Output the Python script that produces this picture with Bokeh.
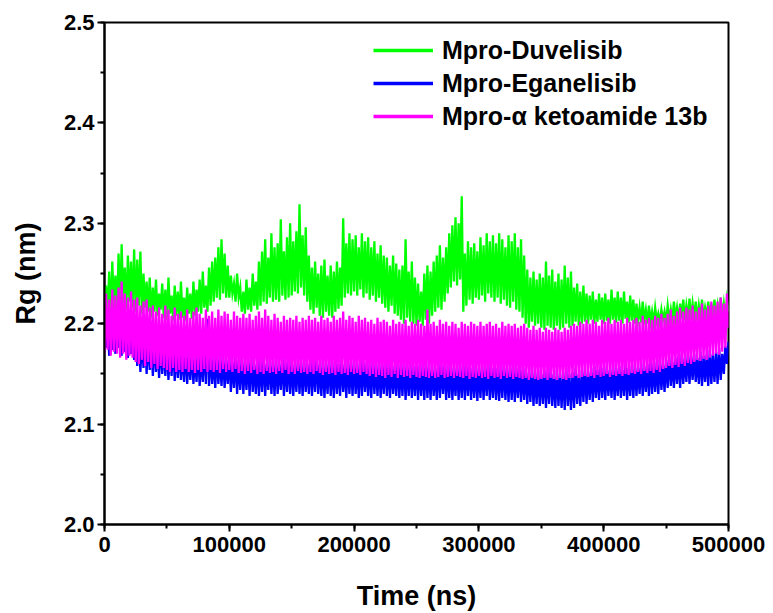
from bokeh.plotting import figure
from bokeh.models import Range1d, SingleIntervalTicker, NumeralTickFormatter, Legend, LegendItem
from bokeh.embed import file_html
from bokeh.resources import INLINE

time_step_ns = 1250

duvelisib = [
    2.204, 2.238, 2.210, 2.252, 2.206, 2.262, 2.214, 2.248, 2.208, 2.270,
    2.216, 2.279, 2.220, 2.256, 2.214, 2.268, 2.222, 2.262, 2.216, 2.274,
    2.212, 2.264, 2.218, 2.272, 2.210, 2.250, 2.216, 2.242, 2.212, 2.246,
    2.206, 2.236, 2.212, 2.244, 2.208, 2.230, 2.214, 2.240, 2.206, 2.234,
    2.204, 2.246, 2.210, 2.228, 2.203, 2.238, 2.208, 2.232, 2.204, 2.242,
    2.206, 2.226, 2.203, 2.236, 2.210, 2.230, 2.205, 2.242, 2.208, 2.234,
    2.212, 2.244, 2.210, 2.252, 2.216, 2.238, 2.212, 2.256, 2.218, 2.262,
    2.222, 2.266, 2.226, 2.276, 2.224, 2.284, 2.230, 2.270, 2.226, 2.258,
    2.226, 2.248, 2.230, 2.240, 2.222, 2.250, 2.226, 2.236, 2.212, 2.232,
    2.210, 2.244, 2.214, 2.236, 2.212, 2.250, 2.218, 2.242, 2.214, 2.262,
    2.218, 2.272, 2.222, 2.284, 2.220, 2.266, 2.226, 2.290, 2.222, 2.276,
    2.224, 2.280, 2.222, 2.304, 2.228, 2.272, 2.224, 2.286, 2.226, 2.300,
    2.228, 2.282, 2.232, 2.292, 2.230, 2.319, 2.236, 2.288, 2.228, 2.296,
    2.222, 2.268, 2.214, 2.256, 2.210, 2.262, 2.216, 2.250, 2.208, 2.258,
    2.206, 2.264, 2.212, 2.248, 2.208, 2.258, 2.206, 2.252, 2.212, 2.262,
    2.215, 2.256, 2.218, 2.305, 2.226, 2.280, 2.230, 2.290, 2.228, 2.284,
    2.232, 2.288, 2.228, 2.276, 2.234, 2.290, 2.226, 2.282, 2.230, 2.286,
    2.224, 2.276, 2.228, 2.282, 2.222, 2.270, 2.226, 2.278, 2.220, 2.268,
    2.216, 2.266, 2.212, 2.258, 2.218, 2.268, 2.210, 2.260, 2.208, 2.254,
    2.204, 2.258, 2.200, 2.284, 2.206, 2.252, 2.202, 2.262, 2.200, 2.246,
    2.198, 2.240, 2.202, 2.232, 2.198, 2.250, 2.204, 2.258, 2.200, 2.252,
    2.208, 2.262, 2.212, 2.268, 2.216, 2.278, 2.214, 2.266, 2.222, 2.276,
    2.230, 2.290, 2.236, 2.298, 2.242, 2.306, 2.238, 2.300, 2.244, 2.327,
    2.212, 2.270, 2.218, 2.282, 2.224, 2.276, 2.220, 2.280, 2.226, 2.272,
    2.224, 2.286, 2.228, 2.278, 2.222, 2.290, 2.230, 2.282, 2.226, 2.288,
    2.222, 2.280, 2.226, 2.290, 2.220, 2.284, 2.224, 2.276, 2.218, 2.288,
    2.216, 2.282, 2.222, 2.290, 2.214, 2.276, 2.212, 2.284, 2.206, 2.268,
    2.200, 2.254, 2.196, 2.246, 2.202, 2.252, 2.198, 2.244, 2.200, 2.250,
    2.196, 2.246, 2.194, 2.262, 2.198, 2.248, 2.196, 2.254, 2.194, 2.242,
    2.198, 2.250, 2.194, 2.244, 2.196, 2.258, 2.200, 2.246, 2.196, 2.252,
    2.198, 2.236, 2.202, 2.240, 2.198, 2.232, 2.200, 2.238, 2.202, 2.230,
    2.200, 2.228, 2.204, 2.232, 2.200, 2.224, 2.202, 2.230, 2.204, 2.226,
    2.200, 2.230, 2.203, 2.224, 2.200, 2.234, 2.204, 2.226, 2.201, 2.232,
    2.203, 2.226, 2.200, 2.232, 2.205, 2.222, 2.201, 2.228, 2.203, 2.224,
    2.200, 2.220, 2.203, 2.216, 2.201, 2.222, 2.204, 2.214, 2.200, 2.218,
    2.202, 2.212, 2.200, 2.216, 2.203, 2.210, 2.201, 2.214, 2.204, 2.212,
    2.201, 2.218, 2.204, 2.214, 2.202, 2.222, 2.205, 2.216, 2.203, 2.220,
    2.205, 2.224, 2.203, 2.218, 2.206, 2.225, 2.204, 2.220, 2.207, 2.222,
    2.203, 2.218, 2.206, 2.224, 2.204, 2.216, 2.207, 2.222, 2.205, 2.220,
    2.204, 2.224, 2.206, 2.218, 2.205, 2.226, 2.207, 2.220, 2.206, 2.224,
    2.212,
]

eganelisib = [
    2.225, 2.176, 2.214, 2.168, 2.205, 2.174, 2.198, 2.170, 2.210, 2.176,
    2.204, 2.168, 2.214, 2.172, 2.196, 2.166, 2.200, 2.170, 2.192, 2.164,
    2.188, 2.158, 2.192, 2.152, 2.184, 2.156, 2.190, 2.150, 2.186, 2.154,
    2.182, 2.148, 2.186, 2.152, 2.180, 2.146, 2.184, 2.150, 2.178, 2.148,
    2.180, 2.144, 2.176, 2.148, 2.182, 2.143, 2.174, 2.146, 2.178, 2.144,
    2.172, 2.142, 2.176, 2.140, 2.170, 2.144, 2.174, 2.140, 2.168, 2.142,
    2.176, 2.138, 2.170, 2.142, 2.178, 2.140, 2.205, 2.138, 2.172, 2.140,
    2.168, 2.136, 2.172, 2.140, 2.166, 2.138, 2.170, 2.136, 2.164, 2.140,
    2.168, 2.132, 2.162, 2.136, 2.170, 2.130, 2.164, 2.134, 2.168, 2.130,
    2.162, 2.134, 2.166, 2.128, 2.170, 2.132, 2.160, 2.130, 2.166, 2.128,
    2.164, 2.132, 2.168, 2.128, 2.160, 2.134, 2.166, 2.130, 2.162, 2.128,
    2.166, 2.130, 2.160, 2.134, 2.168, 2.128, 2.162, 2.132, 2.166, 2.130,
    2.164, 2.128, 2.160, 2.132, 2.166, 2.130, 2.162, 2.128, 2.164, 2.132,
    2.160, 2.130, 2.166, 2.128, 2.162, 2.132, 2.168, 2.130, 2.160, 2.128,
    2.164, 2.126, 2.160, 2.130, 2.166, 2.128, 2.162, 2.126, 2.164, 2.130,
    2.160, 2.128, 2.164, 2.132, 2.160, 2.126, 2.166, 2.130, 2.162, 2.128,
    2.164, 2.130, 2.160, 2.126, 2.166, 2.128, 2.162, 2.132, 2.160, 2.128,
    2.162, 2.126, 2.166, 2.130, 2.160, 2.128, 2.164, 2.126, 2.160, 2.130,
    2.164, 2.128, 2.160, 2.126, 2.162, 2.130, 2.158, 2.128, 2.164, 2.126,
    2.160, 2.128, 2.164, 2.124, 2.160, 2.128, 2.162, 2.126, 2.158, 2.128,
    2.162, 2.124, 2.158, 2.128, 2.160, 2.124, 2.164, 2.126, 2.158, 2.124,
    2.160, 2.128, 2.156, 2.124, 2.162, 2.126, 2.158, 2.130, 2.160, 2.124,
    2.158, 2.126, 2.162, 2.124, 2.156, 2.128, 2.160, 2.124, 2.158, 2.126,
    2.162, 2.124, 2.158, 2.128, 2.160, 2.124, 2.156, 2.126, 2.160, 2.123,
    2.156, 2.126, 2.160, 2.124, 2.158, 2.128, 2.162, 2.124, 2.156, 2.126,
    2.160, 2.124, 2.156, 2.123, 2.158, 2.126, 2.160, 2.124, 2.156, 2.122,
    2.158, 2.124, 2.160, 2.122, 2.156, 2.126, 2.158, 2.122, 2.154, 2.124,
    2.156, 2.120, 2.152, 2.122, 2.156, 2.118, 2.152, 2.120, 2.154, 2.118,
    2.150, 2.120, 2.154, 2.116, 2.152, 2.120, 2.156, 2.118, 2.150, 2.116,
    2.154, 2.118, 2.150, 2.116, 2.152, 2.114, 2.156, 2.118, 2.150, 2.114,
    2.152, 2.116, 2.156, 2.120, 2.150, 2.118, 2.154, 2.122, 2.156, 2.120,
    2.152, 2.124, 2.156, 2.122, 2.158, 2.126, 2.154, 2.124, 2.158, 2.126,
    2.156, 2.124, 2.158, 2.128, 2.154, 2.126, 2.160, 2.124, 2.156, 2.128,
    2.158, 2.126, 2.154, 2.128, 2.160, 2.124, 2.156, 2.128, 2.158, 2.126,
    2.160, 2.128, 2.156, 2.130, 2.162, 2.128, 2.158, 2.132, 2.160, 2.128,
    2.164, 2.130, 2.160, 2.132, 2.162, 2.130, 2.166, 2.134, 2.160, 2.132,
    2.164, 2.136, 2.168, 2.138, 2.162, 2.136, 2.166, 2.140, 2.168, 2.136,
    2.170, 2.140, 2.166, 2.142, 2.172, 2.140, 2.168, 2.144, 2.170, 2.142,
    2.166, 2.140, 2.172, 2.138, 2.168, 2.142, 2.170, 2.138, 2.174, 2.140,
    2.170, 2.142, 2.172, 2.140, 2.176, 2.144, 2.170, 2.150, 2.178, 2.160,
    2.182,
]

ketoamide_13b = [
    2.170, 2.230, 2.174, 2.224, 2.168, 2.234, 2.172, 2.228, 2.170, 2.236,
    2.166, 2.242, 2.170, 2.230, 2.164, 2.226, 2.168, 2.232, 2.166, 2.224,
    2.162, 2.226, 2.160, 2.218, 2.164, 2.222, 2.158, 2.224, 2.162, 2.216,
    2.156, 2.218, 2.160, 2.212, 2.155, 2.216, 2.158, 2.210, 2.156, 2.218,
    2.154, 2.214, 2.152, 2.208, 2.156, 2.216, 2.152, 2.210, 2.154, 2.212,
    2.152, 2.208, 2.155, 2.214, 2.152, 2.206, 2.154, 2.212, 2.151, 2.216,
    2.154, 2.210, 2.152, 2.206, 2.155, 2.214, 2.152, 2.208, 2.154, 2.212,
    2.152, 2.206, 2.154, 2.214, 2.151, 2.208, 2.155, 2.212, 2.152, 2.210,
    2.154, 2.204, 2.152, 2.212, 2.155, 2.208, 2.151, 2.206, 2.153, 2.210,
    2.150, 2.206, 2.153, 2.210, 2.151, 2.204, 2.154, 2.208, 2.150, 2.212,
    2.152, 2.206, 2.150, 2.214, 2.153, 2.208, 2.151, 2.204, 2.152, 2.210,
    2.150, 2.206, 2.153, 2.202, 2.151, 2.208, 2.154, 2.204, 2.150, 2.206,
    2.152, 2.204, 2.150, 2.208, 2.153, 2.202, 2.151, 2.206, 2.152, 2.204,
    2.150, 2.208, 2.152, 2.204, 2.150, 2.206, 2.153, 2.202, 2.151, 2.208,
    2.149, 2.204, 2.152, 2.206, 2.150, 2.202, 2.151, 2.208, 2.149, 2.204,
    2.152, 2.206, 2.150, 2.212, 2.151, 2.204, 2.149, 2.208, 2.152, 2.206,
    2.150, 2.202, 2.151, 2.208, 2.149, 2.204, 2.152, 2.206, 2.150, 2.202,
    2.148, 2.204, 2.150, 2.200, 2.147, 2.206, 2.149, 2.202, 2.148, 2.204,
    2.146, 2.202, 2.149, 2.198, 2.147, 2.204, 2.150, 2.200, 2.146, 2.202,
    2.149, 2.200, 2.147, 2.204, 2.148, 2.198, 2.146, 2.202, 2.149, 2.200,
    2.147, 2.204, 2.146, 2.200, 2.148, 2.198, 2.147, 2.214, 2.146, 2.200,
    2.148, 2.202, 2.146, 2.198, 2.147, 2.204, 2.149, 2.200, 2.146, 2.202,
    2.147, 2.198, 2.148, 2.202, 2.146, 2.200, 2.148, 2.196, 2.147, 2.202,
    2.146, 2.200, 2.148, 2.198, 2.145, 2.202, 2.147, 2.200, 2.146, 2.198,
    2.148, 2.202, 2.146, 2.198, 2.147, 2.200, 2.145, 2.202, 2.148, 2.198,
    2.146, 2.200, 2.147, 2.196, 2.145, 2.202, 2.148, 2.198, 2.146, 2.200,
    2.147, 2.198, 2.145, 2.200, 2.147, 2.196, 2.146, 2.198, 2.145, 2.200,
    2.146, 2.196, 2.144, 2.194, 2.146, 2.198, 2.145, 2.194, 2.144, 2.196,
    2.145, 2.192, 2.146, 2.196, 2.144, 2.194, 2.146, 2.192, 2.145, 2.196,
    2.144, 2.194, 2.146, 2.192, 2.145, 2.196, 2.144, 2.194, 2.146, 2.198,
    2.146, 2.200, 2.148, 2.198, 2.146, 2.202, 2.147, 2.200, 2.148, 2.204,
    2.147, 2.200, 2.148, 2.204, 2.146, 2.202, 2.149, 2.198, 2.147, 2.204,
    2.148, 2.202, 2.150, 2.206, 2.147, 2.200, 2.149, 2.204, 2.148, 2.202,
    2.150, 2.204, 2.148, 2.200, 2.150, 2.206, 2.149, 2.202, 2.151, 2.204,
    2.150, 2.206, 2.152, 2.202, 2.150, 2.208, 2.153, 2.204, 2.151, 2.206,
    2.153, 2.204, 2.151, 2.208, 2.154, 2.206, 2.152, 2.210, 2.155, 2.206,
    2.156, 2.210, 2.158, 2.214, 2.156, 2.208, 2.159, 2.212, 2.157, 2.216,
    2.160, 2.212, 2.158, 2.216, 2.161, 2.214, 2.160, 2.218, 2.162, 2.212,
    2.164, 2.216, 2.163, 2.220, 2.165, 2.214, 2.164, 2.218, 2.166, 2.222,
    2.168, 2.218, 2.170, 2.222, 2.169, 2.226, 2.172, 2.220, 2.176, 2.230,
    2.196,
]

series_names = ["Mpro-Duvelisib", "Mpro-Eganelisib", "Mpro-\u03b1 ketoamide 13b"]
series_colors = ["#00FF00", "#0000FF", "#FF00FF"]
x_tick_interval = 100000
y_tick_interval = 0.1

time_ns = [i * time_step_ns for i in range(len(duvelisib))]

FONT = "Liberation Sans"

p = figure(width=773, height=613, output_backend="svg", toolbar_location=None,
           x_range=Range1d(0, 500000), y_range=Range1d(2.0, 2.5),
           min_border_left=104, min_border_right=45, min_border_top=22, min_border_bottom=89)
p.background_fill_color = "white"
p.border_fill_color = "white"
p.grid.visible = False
p.outline_line_color = "black"
p.outline_line_width = 2

for ys, col in zip([duvelisib, eganelisib, ketoamide_13b], series_colors):
    p.line(time_ns, ys, line_color=col, line_width=2.3, line_join="miter")

legend_renderers = []
for col in series_colors:
    legend_renderers.append(p.line([float("nan")], [float("nan")], line_color=col, line_width=3.5))

p.xaxis.ticker = SingleIntervalTicker(interval=x_tick_interval, num_minor_ticks=2)
p.yaxis.ticker = SingleIntervalTicker(interval=y_tick_interval, num_minor_ticks=2)
p.xaxis.formatter = NumeralTickFormatter(format="0")
p.yaxis.formatter = NumeralTickFormatter(format="0.0")
p.xaxis.axis_label = "Time (ns)"
p.yaxis.axis_label = "Rg (nm)"

for ax in [p.xaxis[0], p.yaxis[0]]:
    ax.axis_line_width = 2
    ax.axis_line_color = "black"
    ax.major_tick_line_width = 2
    ax.minor_tick_line_width = 2
    ax.major_tick_in = 0
    ax.major_tick_out = 7
    ax.minor_tick_in = 0
    ax.minor_tick_out = 4
    ax.major_label_text_font = FONT
    ax.major_label_text_font_style = "bold"
    ax.major_label_text_font_size = "22px"
    ax.major_label_text_color = "black"
    ax.axis_label_text_font = FONT
    ax.axis_label_text_font_style = "bold"
    ax.axis_label_text_font_size = "27px"
    ax.axis_label_text_color = "black"

p.xaxis.major_label_standoff = 5
p.xaxis.axis_label_standoff = 26
p.yaxis.major_label_standoff = 3
p.yaxis.axis_label_standoff = 20

legend = Legend(
    items=[LegendItem(label=n, renderers=[r]) for n, r in zip(series_names, legend_renderers)],
    location=(269, 393), border_line_color=None, background_fill_alpha=0,
    padding=5, spacing=3, glyph_width=60, glyph_height=30, label_height=30,
    label_standoff=9, label_text_font=FONT, label_text_font_style="bold",
    label_text_font_size="25px", label_text_color="black", margin=0)
p.add_layout(legend)

open("out.html", "w").write(file_html(p, INLINE))
